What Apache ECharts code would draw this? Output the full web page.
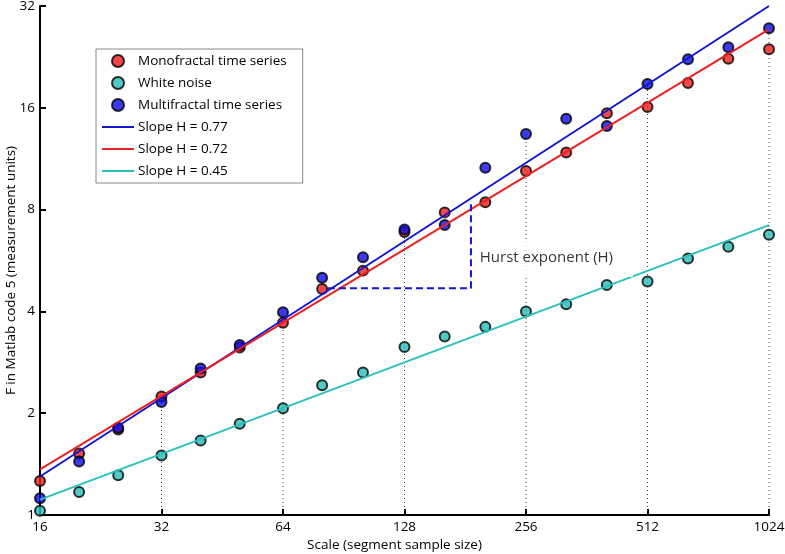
<!DOCTYPE html>
<html><head><meta charset="utf-8">
<script src="https://cdn.jsdelivr.net/npm/echarts@6/dist/echarts.min.js"></script>
<style>html,body{margin:0;padding:0;background:#fff}#c{width:785px;height:554px}</style>
</head><body><div id="c"></div>
<script>
// ---- data ----
const scales = [16,20,25,32,40,50,64,80,101,128,161,203,256,322,406,512,645,812,1024];
const monofractal  = [1.26,1.52,1.79,2.24,2.64,3.13,3.70,4.66,5.28,6.87,7.85,8.41,10.40,11.80,15.41,16.09,18.95,22.35,23.83];
const whiteNoise   = [1.03,1.17,1.31,1.50,1.66,1.86,2.07,2.42,2.64,3.14,3.37,3.60,4.00,4.20,4.79,4.90,5.73,6.21,6.74];
const multifractal = [1.12,1.44,1.81,2.16,2.71,3.18,3.98,5.03,5.78,6.99,7.20,10.64,13.39,14.86,14.14,18.82,22.26,24.15,27.49];
const fitBlue = [[16,1.30],[1024,32.0]];
const fitRed  = [[16,1.365],[1024,27.3]];
const fitCyan = [[16,1.11],[1024,7.2]];
const xTicks = [16,32,64,128,256,512,1024];
const yTicks = [1,2,4,8,16,32];
const dottedScales = [32,64,128,256,512,1024];
const hurstLeg = [[82.7,4.68],[187,4.68],[187,8.4]];
const hurstLabelAt = [189,5.75];
const hurstText = 'Hurst exponent (H)';

const FONT = 'Open Sans';
const RED = '#ee1a1a', BLUE = '#0a0ae8', CYAN = '#26bbb5';
const RED_L = '#e82222', BLUE_L = '#1515d0', CYAN_L = '#2ac0bb';
const LINE_ICON = 'path://M0,0 L32,0 L32,2 L0,2 Z';

const pts = arr => scales.map((s,i)=>[s,arr[i]]);
const dotted = dottedScales.map(s=>{
  const i = scales.indexOf(s);
  const top = Math.max(monofractal[i], whiteNoise[i], multifractal[i]);
  return {type:'line', data:[[s,1],[s,top]], symbol:'none', silent:true, z:1,
    lineStyle:{color:'#444', width:1, type:[1,3]}};
});
const scatterStyle = c => ({color:c, borderColor:'#000', borderWidth:2});

const chart = echarts.init(document.getElementById('c'), null, {renderer:'canvas'});
chart.setOption({
  animation:false,
  backgroundColor:'#fff',
  textStyle:{fontFamily:FONT},
  grid:{left:40, right:16, top:6, bottom:39, containLabel:false, outerBoundsMode:'none'},
  xAxis:{type:'log', logBase:2, min:16, max:1024,
    name:'Scale (segment sample size)', nameLocation:'middle', nameGap:23, nameMoveOverlap:false,
    nameTextStyle:{fontFamily:FONT, fontSize:13.5, color:'#000', padding:[0,20,0,0]},
    axisLine:{lineStyle:{color:'#000', width:2}},
    axisTick:{inside:true, length:6, lineStyle:{color:'#000', width:2}},
    minorTick:{show:false}, splitLine:{show:false},
    axisLabel:{fontFamily:FONT, fontSize:13.5, color:'#000', margin:5,
      formatter:v=>{const r=Math.round(v); return xTicks.includes(r)?String(r):'';}}
  },
  yAxis:{type:'log', logBase:2, min:1, max:32,
    name:'F in Matlab code 5 (measurement units)', nameLocation:'middle', nameGap:22, nameMoveOverlap:false,
    nameTextStyle:{fontFamily:FONT, fontSize:13.5, color:'#000', padding:[0,20,0,0]},
    axisLine:{lineStyle:{color:'#000', width:2}},
    axisTick:{inside:true, length:6, lineStyle:{color:'#000', width:2}},
    minorTick:{show:false}, splitLine:{show:false},
    axisLabel:{fontFamily:FONT, fontSize:13.5, color:'#000', margin:5,
      formatter:v=>{const r=Math.round(v); return yTicks.includes(r)?String(r):'';}}
  },
  legend:{orient:'vertical', left:96, top:49, itemWidth:32, itemHeight:12, itemGap:8,
    padding:[5,16,5,6], borderColor:'#888', borderWidth:1, backgroundColor:'#fff',
    textStyle:{fontFamily:FONT, fontSize:13.5, color:'#000', padding:[0,0,0,-1]},
    data:[
      {name:'Monofractal time series', icon:'circle'},
      {name:'White noise', icon:'circle'},
      {name:'Multifractal time series', icon:'circle'},
      {name:'Slope H = 0.77', icon:LINE_ICON},
      {name:'Slope H = 0.72', icon:LINE_ICON},
      {name:'Slope H = 0.45', icon:LINE_ICON}
    ]},
  series:[
    ...dotted,
    {name:'Monofractal time series', type:'scatter', data:pts(monofractal), symbolSize:10, itemStyle:scatterStyle(RED), z:3},
    {name:'White noise', type:'scatter', data:pts(whiteNoise), symbolSize:10, itemStyle:scatterStyle(CYAN), z:3},
    {name:'Multifractal time series', type:'scatter', data:pts(multifractal), symbolSize:10, itemStyle:scatterStyle(BLUE), z:3},
    {name:'Slope H = 0.77', type:'line', data:fitBlue, symbol:'none', lineStyle:{color:BLUE_L, width:2}, itemStyle:{color:BLUE_L}, z:4},
    {name:'Slope H = 0.72', type:'line', data:fitRed, symbol:'none', lineStyle:{color:RED_L, width:2}, itemStyle:{color:RED_L}, z:4},
    {name:'Slope H = 0.45', type:'line', data:fitCyan, symbol:'none', lineStyle:{color:CYAN_L, width:2}, itemStyle:{color:CYAN_L}, z:4},
    {name:'hurst', type:'line', data:hurstLeg, symbol:'none', lineStyle:{color:BLUE_L, width:2, type:[7,4]}, z:5},
    {name:'hurstText', type:'scatter', data:[hurstLabelAt], symbolSize:0, z:6, silent:true,
      label:{show:true, position:'right', distance:0, formatter:hurstText,
        fontFamily:FONT, fontSize:15, color:'#000', backgroundColor:'#fff', padding:[12,20,11,7]}}
  ]
});
</script></body></html>
